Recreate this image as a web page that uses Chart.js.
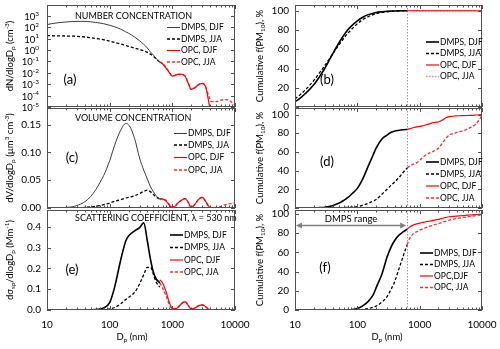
<!DOCTYPE html>
<html>
<head>
<meta charset="utf-8">
<script src="https://cdn.jsdelivr.net/npm/chart.js@4.4.1/dist/chart.umd.min.js"></script>
<style>
  body { margin: 0; background: #fff; }
  #wrap { position: relative; width: 500px; height: 349px; overflow: hidden; background: #fff; }
  canvas { position: absolute; }
</style>
</head>
<body>
<div id="wrap">
  <canvas id="panelA"></canvas>
  <canvas id="panelB"></canvas>
  <canvas id="panelC"></canvas>
  <canvas id="panelD"></canvas>
  <canvas id="panelE"></canvas>
  <canvas id="panelF"></canvas>
</div>
<script>
// Size distributions (left) and cumulative fractions (right), DMPS below ~630 nm and OPC above.

var dmpsDiameters = [10, 12, 15, 20, 25, 30, 40, 50, 60, 70, 80, 100, 120, 150, 180, 200, 250, 300, 350, 400, 450, 500, 550, 630];
var opcDiameters = [630, 700, 800, 900, 1000, 1100, 1200, 1400, 1600, 1800, 2000, 2300, 2600, 3000, 3400, 3800, 4200, 5000, 6000, 7000, 8000, 10000];
var dmpsLimit = 630;

// (a) number concentration, cm-3
var numberDmpsDjf = [170, 210, 250, 290, 315, 325, 330, 300, 265, 235, 205, 150, 110, 68, 40, 30, 14, 6.5, 3.2, 1.5, 0.65, 0.35, 0.18, 0.09];
var numberDmpsJja = [18.6, 18, 17.5, 17, 16.5, 16, 14, 12, 10.5, 9.3, 8, 6, 4.6, 3.4, 2.5, 2.1, 1.5, 1.1, 0.85, 0.62, 0.42, 0.28, 0.17, 0.09];
var numberOpcDjf = [0.09, 0.06, 0.025, 0.01, 0.005, 0.006, 0.0072, 0.0075, 0.005, 0.0012, 0.00035, 0.0005, 0.0009, 0.0012, 0.0006, 0.00003, 0.000001, null, null, null, null, null];
var numberOpcJja = [0.09, 0.065, 0.028, 0.011, 0.0055, 0.006, 0.0072, 0.0075, 0.005, 0.0012, 0.00035, 0.0005, 0.0009, 0.0012, 0.0006, 0.0001, 0.00003, 0.00003, 0.00004, 0.000045, 0.00004, 0.000014];

// (c) volume concentration, um3 cm-3
var volumeDmpsDjf = [0, 0, 0.0003, 0.001, 0.002, 0.0045, 0.011, 0.021, 0.033, 0.046, 0.058, 0.085, 0.113, 0.14, 0.152, 0.15, 0.125, 0.09, 0.068, 0.052, 0.038, 0.029, 0.022, 0.016];
var volumeDmpsJja = [0, 0, 0, 0, 0, 0.0003, 0.001, 0.002, 0.003, 0.0045, 0.006, 0.009, 0.012, 0.015, 0.018, 0.019, 0.022, 0.026, 0.03, 0.032, 0.029, 0.024, 0.02, 0.016];
var volumeOpcDjf = [0.016, 0.016, 0.012, 0.005, 0.001, 0.003, 0.008, 0.014, 0.017, 0.01, 0.001, 0.007, 0.015, 0.019, 0.012, 0.003, 0, 0, 0, 0, 0, 0];
var volumeOpcJja = [0.017, 0.017, 0.013, 0.006, 0.0015, 0.003, 0.008, 0.014, 0.017, 0.01, 0.001, 0.007, 0.015, 0.019, 0.012, 0.003, 0.0005, 0.001, 0.003, 0.006, 0.0075, 0.0095];

// (e) scattering coefficient at 530 nm, Mm-1
var scatterDmpsDjf = [0, 0, 0, 0, 0, 0, 0, 0.001, 0.002, 0.005, 0.01, 0.035, 0.11, 0.24, 0.33, 0.355, 0.38, 0.395, 0.418, 0.33, 0.24, 0.18, 0.15, 0.13];
var scatterDmpsJja = [0, 0, 0, 0, 0, 0, 0, 0, 0, 0, 0.001, 0.005, 0.012, 0.03, 0.05, 0.06, 0.085, 0.125, 0.17, 0.205, 0.205, 0.17, 0.135, 0.11];
var scatterOpcDjf = [0.145, 0.13, 0.085, 0.035, 0.007, 0.006, 0.01, 0.03, 0.04, 0.022, 0.004, 0.01, 0.02, 0.025, 0.016, 0.004, 0, 0, 0, 0, 0, 0];
var scatterOpcJja = [0.13, 0.105, 0.065, 0.025, 0.006, 0.006, 0.01, 0.03, 0.04, 0.022, 0.004, 0.01, 0.02, 0.025, 0.016, 0.004, 0.001, 0.001, 0.001, 0.002, 0.002, 0.002];

// (b) cumulative number fraction, %
var cumNumberDmpsDjf = [5.6, 9, 14.5, 23, 32, 40, 55, 66, 74, 80, 84, 89.5, 93, 96, 97.5, 98.2, 99, 99.5, 99.7, 99.8, 99.9, 100, 100, 100];
var cumNumberDmpsJja = [8.5, 12.5, 18.5, 27.5, 36, 43, 55, 64, 71, 76.5, 80.5, 86.5, 90.5, 94, 96, 97, 98.3, 99, 99.4, 99.6, 99.8, 99.9, 100, 100];
var cumNumberOpcDjf = [100, 100, 100, 100, 100, 100, 100, 100, 100, 100, 100, 100, 100, 100, 100, 100, 100, 100, 100, 100, 100, 100];
var cumNumberOpcJja = [100, 100, 100, 100, 100, 100, 100, 100, 100, 100, 100, 100, 100, 100, 100, 100, 100, 100, 100, 100, 100, 100];

// (d) cumulative volume fraction, %
var cumVolumeDmpsDjf = [0, 0, 0, 0.1, 0.4, 0.8, 2.5, 5, 8, 11, 14.5, 21, 30, 45, 57, 64, 74, 78, 81, 82.3, 83, 83.5, 83.8, 84];
var cumVolumeDmpsJja = [0, 0, 0, 0, 0, 0, 0.1, 0.3, 0.5, 0.7, 0.9, 1.5, 2.8, 5, 7.5, 9, 15, 20, 24.5, 28, 31.5, 35, 38.5, 43];
var cumVolumeOpcDjf = [84, 85, 86, 86.8, 87.3, 87.8, 88.5, 89.8, 91, 91.7, 92, 94, 96.3, 97.8, 98.2, 98.5, 98.7, 98.8, 99, 99.2, 99.5, 100];
var cumVolumeOpcJja = [43, 45, 47, 48.5, 51, 53.5, 56, 58.5, 60, 62, 64, 69, 74, 78, 79.5, 80.5, 81.5, 82.5, 85, 87, 90, 99];

// (f) cumulative scattering fraction, %
var cumScatterDmpsDjf = [0, 0, 0, 0, 0, 0, 0, 0, 0, 0, 0.3, 1.5, 4, 9, 16, 23, 38, 55, 66, 72.5, 77, 79.5, 81.5, 84];
var cumScatterDmpsJja = [0, 0, 0, 0, 0, 0, 0, 0, 0, 0, 0, 0, 0.5, 1.5, 3, 4, 8.5, 14, 22, 30, 40, 49, 57, 68];
var cumScatterOpcDjf = [84, 86.5, 88.5, 89.5, 90.3, 91, 91.5, 92.3, 93, 93.7, 94.3, 95.3, 96.2, 97, 97.3, 97.6, 97.8, 98.2, 98.6, 99, 99.3, 99.7];
var cumScatterOpcJja = [68, 75, 79.5, 81.5, 83, 84.2, 85.2, 86.8, 88, 89, 90, 91.2, 92.2, 93.5, 94.3, 95, 95.5, 96.3, 97, 97.6, 98.2, 99];

// ticks and labels
var xTickValues = [10, 100, 1000, 10000];
var numberTickExponents = [-5, -4, -3, -2, -1, 0, 1, 2, 3];
var volumeTicks = [0, 0.05, 0.10, 0.15];
var scatterTicks = [0, 0.1, 0.2, 0.3, 0.4];
var cumulativeTicks = [0, 20, 40, 60, 80, 100];
var legendLabels = ['DMPS, DJF', 'DMPS, JJA', 'OPC, DJF', 'OPC, JJA'];
var legendLabelsF = ['DMPS, DJF', 'DMPS, JJA', 'OPC,DJF', 'OPC, JJA'];

var FONT = "Lato, 'Open Sans', sans-serif";
var TEXT = '#000000';

var thinBlack = {borderColor: '#3c3c3c', borderWidth: 1};
var solidBlack = {borderColor: '#000000', borderWidth: 1.6};
var dashBlack = {borderColor: '#000000', borderWidth: 1.3, borderDash: [3, 2]};
var solidRed = {borderColor: '#ff0000', borderWidth: 1.2};
var dashRed = {borderColor: '#ff2a2a', borderWidth: 1.3, borderDash: [3, 2]};

function line(label, xs, ys, style) {
    var ds = {
        label: label,
        data: xs.map(function (x, i) { return {x: x, y: ys[i]}; }),
        pointRadius: 0,
        fill: false,
        cubicInterpolationMode: 'monotone'
    };
    return Object.assign(ds, style);
}

// draws text with sub/superscript pieces, e.g. [['dN/dlogD'], ['p', 'sub']]
function drawRich(ctx, parts, x, y, size, align, rotate) {
    ctx.save();
    ctx.translate(x, y);
    if (rotate) ctx.rotate(-Math.PI / 2);
    ctx.textBaseline = 'middle';
    ctx.textAlign = 'left';
    ctx.fillStyle = TEXT;
    var small = size * 0.68, total = 0, widths = [];
    parts.forEach(function (p) {
        ctx.font = (p[1] ? small : size) + 'px ' + FONT;
        var w = ctx.measureText(p[0]).width;
        widths.push(w);
        total += w;
    });
    var cx = align === 'right' ? -total : (align === 'left' ? 0 : -total / 2);
    parts.forEach(function (p, i) {
        ctx.font = (p[1] ? small : size) + 'px ' + FONT;
        var dy = p[1] === 'sub' ? size * 0.3 : (p[1] === 'sup' ? -size * 0.35 : 0);
        ctx.fillText(p[0], cx, dy);
        cx += widths[i];
    });
    ctx.restore();
}

// keep Chart.js from adding label overflow padding, the plot box is placed by hand
function noPadding(s) {
    s.paddingTop = 0;
    s.paddingBottom = 0;
    s.paddingLeft = 0;
    s.paddingRight = 0;
}

var panelPlugin = {
    id: 'panel',
    beforeDatasetsDraw: function (chart, args, o) {
        if (!o.boundary) return;
        var ctx = chart.ctx, area = chart.chartArea;
        var px = Math.round(chart.scales.x.getPixelForValue(dmpsLimit)) + 0.5;
        ctx.save();
        ctx.strokeStyle = '#9a9a9a';
        ctx.lineWidth = 1;
        ctx.setLineDash([1.5, 1.5]);
        ctx.beginPath();
        ctx.moveTo(px, area.top);
        ctx.lineTo(px, area.bottom);
        ctx.stroke();
        ctx.restore();
    },
    afterDatasetsDraw: function (chart, args, o) {
        var ctx = chart.ctx, area = chart.chartArea;
        var xs = chart.scales.x, ys = chart.scales.y;
        ctx.save();
        ctx.strokeStyle = '#505050';
        ctx.lineWidth = 1;
        ctx.setLineDash([]);
        ctx.strokeRect(area.left + 0.5, area.top + 0.5, area.right - area.left - 1, area.bottom - area.top - 1);

        // inward tick marks, majors and log minors on x
        ctx.beginPath();
        for (var d = 10; d <= 10000; d *= 10) {
            for (var m = 1; m < 10; m++) {
                var v = d * m;
                if (v > 10000) break;
                var px = Math.round(xs.getPixelForValue(v)) + 0.5;
                var len = m === 1 ? 4 : 2.5;
                ctx.moveTo(px, area.bottom);
                ctx.lineTo(px, area.bottom - len);
                ctx.moveTo(px, area.top);
                ctx.lineTo(px, area.top + len);
            }
        }
        ys.ticks.forEach(function (t) {
            var py = Math.round(ys.getPixelForValue(t.value)) + 0.5;
            ctx.moveTo(area.left, py);
            ctx.lineTo(area.left + 4, py);
            ctx.moveTo(area.right, py);
            ctx.lineTo(area.right - 4, py);
        });
        ctx.stroke();

        // log y labels with superscript exponents
        if (o.powerLabels) {
            numberTickExponents.forEach(function (e) {
                var py = ys.getPixelForValue(Math.pow(10, e));
                drawRich(ctx, [['10'], [String(e), 'sup']], area.left - 8, py + 1, 9.5, 'right', false);
            });
        }

        // the rest is placed in page coordinates
        ctx.translate(-o.origin[0], -o.origin[1]);

        // legend from the datasets
        ctx.font = '8.5px ' + FONT;
        ctx.textBaseline = 'middle';
        ctx.textAlign = 'left';
        chart.data.datasets.forEach(function (ds, i) {
            var y = o.legendRows[i];
            ctx.strokeStyle = ds.borderColor;
            ctx.lineWidth = ds.borderWidth;
            ctx.setLineDash(ds.borderDash || []);
            ctx.beginPath();
            ctx.moveTo(o.legendX, y);
            ctx.lineTo(o.legendX + 13, y);
            ctx.stroke();
            ctx.fillStyle = TEXT;
            ctx.fillText(ds.label, o.legendX + 14, y);
        });
        ctx.setLineDash([]);

        if (o.title) {
            ctx.font = '9px ' + FONT;
            ctx.fillStyle = TEXT;
            ctx.fillText(o.title, o.titleX, o.titleY);
        }
        ctx.font = '13px ' + FONT;
        ctx.fillStyle = TEXT;
        ctx.textAlign = 'center';
        ctx.fillText(o.letter, o.letterX, o.letterY);

        drawRich(ctx, o.yTitle, o.origin[0] + 10, (area.top + area.bottom) / 2 + o.origin[1], 9.5, 'center', true);
        if (o.xTitleX) {
            drawRich(ctx, [['D'], ['p', 'sub'], [' (nm)']], o.xTitleX, 337, 9.5, 'center', false);
        }
        ctx.restore();

        if (o.range) {
            var x1 = xs.getPixelForValue(10) + 1, x2 = xs.getPixelForValue(dmpsLimit) - 1;
            var y = Math.round(ys.getPixelForValue(o.range)) + 0.5;
            ctx.save();
            ctx.strokeStyle = '#808080';
            ctx.fillStyle = '#808080';
            ctx.lineWidth = 1.6;
            ctx.beginPath();
            ctx.moveTo(x1 + 4, y);
            ctx.lineTo(x2 - 4, y);
            ctx.stroke();
            ctx.beginPath();
            ctx.moveTo(x1, y); ctx.lineTo(x1 + 6, y - 3); ctx.lineTo(x1 + 6, y + 3); ctx.closePath();
            ctx.moveTo(x2, y); ctx.lineTo(x2 - 6, y - 3); ctx.lineTo(x2 - 6, y + 3); ctx.closePath();
            ctx.fill();
            ctx.font = '9.5px ' + FONT;
            ctx.fillStyle = TEXT;
            ctx.textAlign = 'center';
            ctx.textBaseline = 'middle';
            ctx.fillText('DMPS range', (x1 + x2) / 2, y - 6.5);
            ctx.restore();
        }
    }
};

function makePanel(p) {
    var canvas = document.getElementById(p.id);
    canvas.width = p.width;
    canvas.height = p.height;
    canvas.style.left = p.left + 'px';
    canvas.style.top = p.top + 'px';
    p.panel.origin = [p.left, p.top];

    return new Chart(canvas, {
        type: 'line',
        data: {datasets: p.datasets},
        options: {
            responsive: false,
            animation: false,
            devicePixelRatio: 1,
            layout: {padding: {left: 0, right: p.padRight, top: 5, bottom: p.showX ? 0 : 5}},
            plugins: {legend: {display: false}, tooltip: {enabled: false}, panel: p.panel},
            scales: {
                x: {
                    type: 'logarithmic', min: 10, max: 10000,
                    grid: {display: false, drawTicks: false},
                    border: {display: false},
                    ticks: {
                        display: p.showX, autoSkip: false, maxRotation: 0, padding: 9,
                        color: TEXT, font: {family: FONT, size: 10},
                        callback: function (v) { return String(v); }
                    },
                    afterBuildTicks: function (s) { s.ticks = xTickValues.map(function (v) { return {value: v}; }); },
                    afterFit: function (s) { s.height = p.showX ? 39 : 0; noPadding(s); }
                },
                y: {
                    type: p.yType, min: p.yMin, max: p.yMax,
                    grid: {display: false, drawTicks: false},
                    border: {display: false},
                    ticks: {
                        display: !p.panel.powerLabels, padding: 6,
                        color: TEXT, font: {family: FONT, size: 10},
                        callback: function (v) { return p.yDecimals === 0 ? String(v) : Number(v).toFixed(p.yDecimals); }
                    },
                    afterBuildTicks: function (s) { s.ticks = p.yTicks.map(function (v) { return {value: v}; }); },
                    afterFit: function (s) { s.width = p.yWidth; noPadding(s); }
                }
            }
        },
        plugins: [panelPlugin]
    });
}

var cumulativeTitle = [['Cumulative f(PM'], ['10', 'sub'], ['), %']];

makePanel({
    id: 'panelA', left: 0, top: 0, width: 250, height: 112, yWidth: 47, padRight: 15, showX: false,
    yType: 'logarithmic', yMin: 1e-5, yMax: 9000,
    yTicks: numberTickExponents.map(function (e) { return Math.pow(10, e); }),
    datasets: [
        line(legendLabels[0], dmpsDiameters, numberDmpsDjf, thinBlack),
        line(legendLabels[1], dmpsDiameters, numberDmpsJja, dashBlack),
        line(legendLabels[2], opcDiameters, numberOpcDjf, solidRed),
        line(legendLabels[3], opcDiameters, numberOpcJja, dashRed)
    ],
    panel: {
        powerLabels: true, title: 'NUMBER CONCENTRATION', titleX: 75, titleY: 16,
        letter: '(a)', letterX: 70, letterY: 80,
        legendX: 167, legendRows: [27.5, 39, 50.5, 62],
        yTitle: [['dN/dlogD'], ['p', 'sub'], [' (cm'], ['-3', 'sup'], [')']]
    }
});

makePanel({
    id: 'panelC', left: 0, top: 103, width: 250, height: 110, yWidth: 47, padRight: 15, showX: false,
    yType: 'linear', yMin: 0, yMax: 0.18, yTicks: volumeTicks, yDecimals: 2,
    datasets: [
        line(legendLabels[0], dmpsDiameters, volumeDmpsDjf, thinBlack),
        line(legendLabels[1], dmpsDiameters, volumeDmpsJja, dashBlack),
        line(legendLabels[2], opcDiameters, volumeOpcDjf, solidRed),
        line(legendLabels[3], opcDiameters, volumeOpcJja, dashRed)
    ],
    panel: {
        title: 'VOLUME CONCENTRATION', titleX: 75, titleY: 118,
        letter: '(c)', letterX: 72, letterY: 158,
        legendX: 174, legendRows: [133.5, 145, 157.5, 170],
        yTitle: [['dV/dlogD'], ['p', 'sub'], [' (\u00b5m'], ['3', 'sup'], [' cm'], ['-3', 'sup'], [')']]
    }
});

makePanel({
    id: 'panelE', left: 0, top: 205, width: 250, height: 144, yWidth: 47, padRight: 15, showX: true,
    yType: 'linear', yMin: 0, yMax: 0.48, yTicks: scatterTicks, yDecimals: 1,
    datasets: [
        line(legendLabels[0], dmpsDiameters, scatterDmpsDjf, solidBlack),
        line(legendLabels[1], dmpsDiameters, scatterDmpsJja, dashBlack),
        line(legendLabels[2], opcDiameters, scatterOpcDjf, solidRed),
        line(legendLabels[3], opcDiameters, scatterOpcJja, dashRed)
    ],
    panel: {
        title: 'SCATTERING COEFFICIENT, \u03bb = 530 nm', titleX: 75, titleY: 218,
        letter: '(e)', letterX: 72, letterY: 270,
        legendX: 170, legendRows: [235, 247.5, 260, 272],
        yTitle: [['d\u03c3'], ['sp', 'sub'], ['/dlogD'], ['p', 'sub'], [' (Mm'], ['-1', 'sup'], [')']],
        xTitleX: 132
    }
});

makePanel({
    id: 'panelB', left: 250, top: 0, width: 250, height: 112, yWidth: 45, padRight: 18, showX: false,
    yType: 'linear', yMin: 0, yMax: 106, yTicks: cumulativeTicks, yDecimals: 0,
    datasets: [
        line(legendLabels[0], dmpsDiameters, cumNumberDmpsDjf, solidBlack),
        line(legendLabels[1], dmpsDiameters, cumNumberDmpsJja, dashBlack),
        line(legendLabels[2], opcDiameters, cumNumberOpcDjf, solidRed),
        line(legendLabels[3], opcDiameters, cumNumberOpcJja, {borderColor: '#ff8080', borderWidth: 1.4, borderDash: [1.5, 1.5]})
    ],
    panel: {
        boundary: true,
        letter: '(b)', letterX: 327, letterY: 80,
        legendX: 426, legendRows: [42, 53.5, 65, 76.5],
        yTitle: cumulativeTitle
    }
});

makePanel({
    id: 'panelD', left: 250, top: 103, width: 250, height: 110, yWidth: 45, padRight: 18, showX: false,
    yType: 'linear', yMin: 0, yMax: 107, yTicks: cumulativeTicks, yDecimals: 0,
    datasets: [
        line(legendLabels[0], dmpsDiameters, cumVolumeDmpsDjf, solidBlack),
        line(legendLabels[1], dmpsDiameters, cumVolumeDmpsJja, dashBlack),
        line(legendLabels[2], opcDiameters, cumVolumeOpcDjf, solidRed),
        line(legendLabels[3], opcDiameters, cumVolumeOpcJja, dashRed)
    ],
    panel: {
        boundary: true,
        letter: '(d)', letterX: 327, letterY: 162,
        legendX: 426, legendRows: [162, 174, 186, 198],
        yTitle: cumulativeTitle
    }
});

makePanel({
    id: 'panelF', left: 250, top: 205, width: 250, height: 144, yWidth: 45, padRight: 18, showX: true,
    yType: 'linear', yMin: 0, yMax: 104, yTicks: cumulativeTicks, yDecimals: 0,
    datasets: [
        line(legendLabelsF[0], dmpsDiameters, cumScatterDmpsDjf, solidBlack),
        line(legendLabelsF[1], dmpsDiameters, cumScatterDmpsJja, dashBlack),
        line(legendLabelsF[2], opcDiameters, cumScatterOpcDjf, solidRed),
        line(legendLabelsF[3], opcDiameters, cumScatterOpcJja, dashRed)
    ],
    panel: {
        boundary: true, range: 88,
        letter: '(f)', letterX: 325, letterY: 268,
        legendX: 420, legendRows: [253, 264.5, 276, 287.5],
        yTitle: cumulativeTitle,
        xTitleX: 387
    }
});
</script>
</body>
</html>
